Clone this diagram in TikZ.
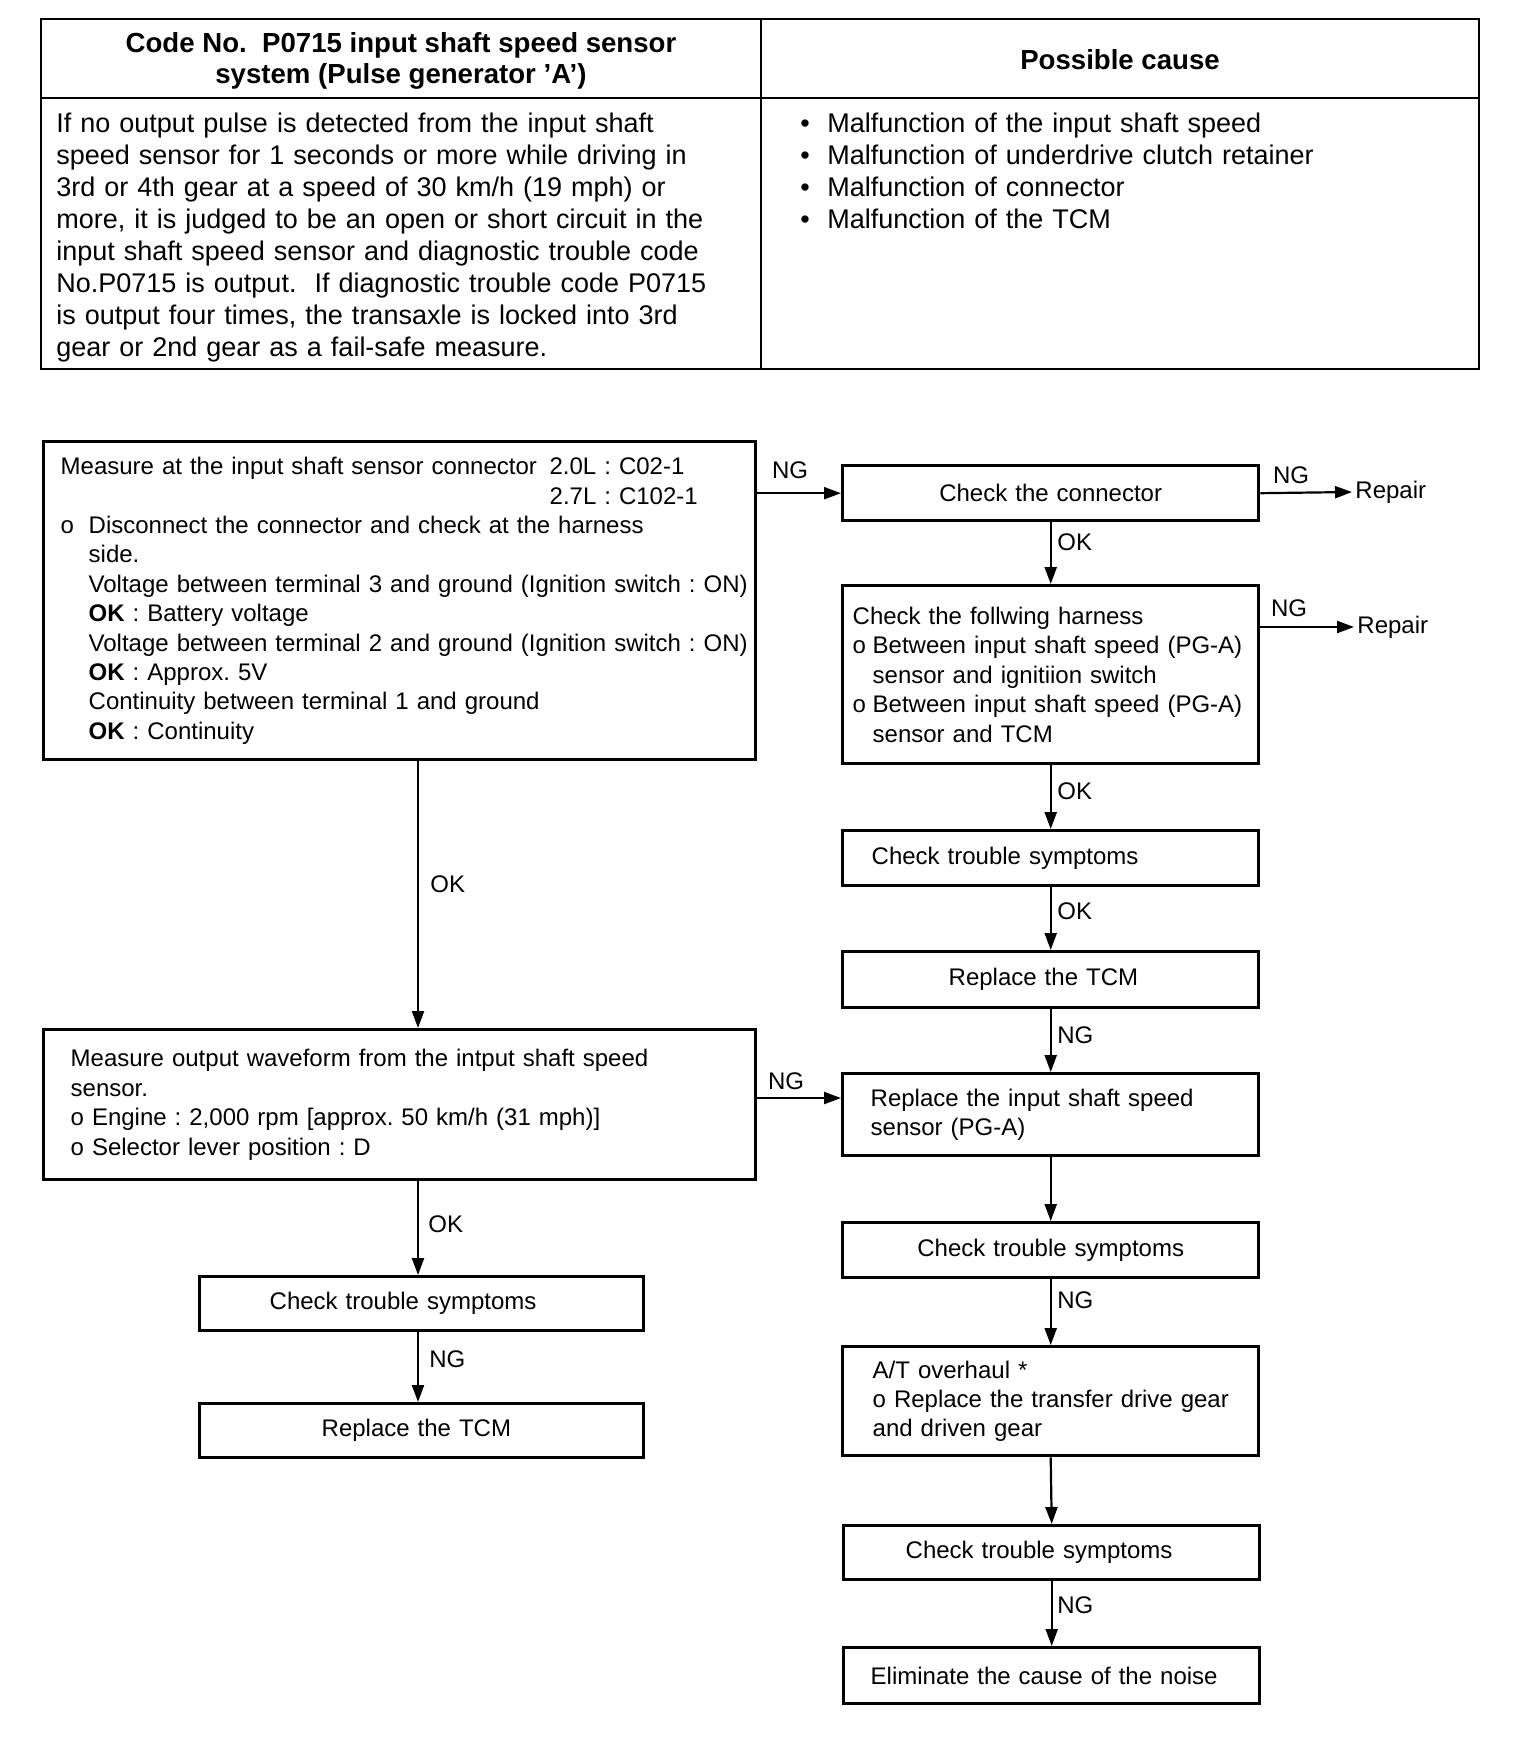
\documentclass[tikz,border=0pt]{standalone}
\usepackage{fontspec}
\setmainfont{Liberation Sans}
\usetikzlibrary{arrows.meta}
\frenchspacing
\newcommand\fsz{\fontsize{12pt}{14.7pt}\selectfont}
\newcommand\ftb{\fontsize{13.5pt}{16pt}\selectfont}
\newcommand\fth{\fontsize{13.8pt}{15.5pt}\selectfont\bfseries}
\begin{document}
\begin{tikzpicture}[x=0.5pt,y=-0.5pt,
  tline/.style={line width=1.1pt},
  fbox/.style={draw, line width=1.7pt, anchor=north west, align=left, inner ysep=0pt, font=\fsz},
  cbox/.style={draw, line width=1.7pt, anchor=north west, align=center, inner ysep=0pt, inner xsep=0pt, text width=208pt, font=\fsz},
  arr/.style={line width=1.1pt, -{Triangle[length=8.5pt,width=6pt]}},
  lbl/.style={font=\fsz, anchor=west, inner sep=0pt},
  hlbl/.style={font=\fsz, inner sep=0pt},
  rep/.style={font=\fsz, anchor=west, inner sep=1.5pt}
]
\useasboundingbox[fill=white] (0,0) rectangle (1520,1748);

% ---------- top table ----------
\draw[tline] (41,19) rectangle (1479,369);
\draw[tline] (41,98) -- (1479,98);
\draw[tline] (761,19) -- (761,369);
\node[font=\fth, align=center, inner sep=0pt] (h1) at (401,60.5) {Code No.\ \ P0715 input shaft speed sensor\\system (Pulse generator 'A')};
\node[font=\fth, inner sep=0pt] (h2) at (1120,60) {Possible cause};
\node[font=\ftb, align=left, anchor=base west, inner sep=0pt, text width=350pt] (desc) at (56,133) {If no output pulse is detected from the input shaft\\
speed sensor for 1 seconds or more while driving in\\
3rd or 4th gear at a speed of 30 km/h (19 mph) or\\
more, it is judged to be an open or short circuit in the\\
input shaft speed sensor and diagnostic trouble code\\
No.P0715 is output.\ \ If diagnostic trouble code P0715\\
is output four times, the transaxle is locked into 3rd\\
gear or 2nd gear as a fail-safe measure.};
\node[font=\ftb, align=left, anchor=base west, inner sep=0pt, text width=330pt] (causes) at (800,133) {\makebox[13.5pt][l]{\textbullet}Malfunction of the input shaft speed\\
\makebox[13.5pt][l]{\textbullet}Malfunction of underdrive clutch retainer\\
\makebox[13.5pt][l]{\textbullet}Malfunction of connector\\
\makebox[13.5pt][l]{\textbullet}Malfunction of the TCM};

% ---------- flowchart boxes ----------
\node[fbox, inner xsep=8.5pt, text width=339pt, minimum height=159pt] (A) at (42,440) {%
\makebox[244.5pt][l]{Measure at the input shaft sensor connector}2.0L : C02-1\\
\hspace*{244.5pt}2.7L : C102-1\\
\makebox[14pt][l]{o}Disconnect the connector and check at the harness\\
\hspace*{14pt}side.\\
\mbox{\hspace*{14pt}Voltage between terminal 3 and ground (Ignition switch : ON)}\\
\hspace*{14pt}\textbf{OK} : Battery voltage\\
\mbox{\hspace*{14pt}Voltage between terminal 2 and ground (Ignition switch : ON)}\\
\hspace*{14pt}\textbf{OK} : Approx. 5V\\
\hspace*{14pt}Continuity between terminal 1 and ground\\
\hspace*{14pt}\textbf{OK} : Continuity};

\node[cbox, minimum height=27.5pt] (B) at (841,464) {Check the connector};

\node[fbox, inner xsep=5pt, text width=198pt, minimum height=89pt] (C) at (841,584) {%
Check the follwing harness\\
\mbox{\makebox[10pt][l]{o}Between input shaft speed (PG-A)}\\
\hspace*{10pt}sensor and ignitiion switch\\
\mbox{\makebox[10pt][l]{o}Between input shaft speed (PG-A)}\\
\hspace*{10pt}sensor and TCM};

\node[fbox, inner xsep=14.5pt, text width=179pt, minimum height=27.5pt] (D) at (841,829) {Check trouble symptoms};
\node[fbox, inner xsep=53pt, text width=102pt, minimum height=28pt] (E) at (841,950) {Replace the TCM};
\node[fbox, inner xsep=14pt, text width=180pt, minimum height=41pt] (F) at (841,1072) {Replace the input shaft speed\\sensor (PG-A)};

\node[fbox, inner xsep=13.5pt, text width=329pt, minimum height=75pt] (G) at (42,1028) {%
Measure output waveform from the intput shaft speed\\
sensor.\\
o Engine : 2,000 rpm [approx. 50 km/h (31 mph)]\\
o Selector lever position : D};

\node[cbox, minimum height=27.5pt] (H) at (841,1221) {Check trouble symptoms};
\node[fbox, inner xsep=15pt, text width=178pt, minimum height=54.5pt] (I) at (841,1345) {A/T overhaul *\\\mbox{o Replace the transfer drive gear}\\and driven gear};
\node[fbox, inner xsep=31pt, text width=146pt, minimum height=27pt] (J) at (842,1524) {Check trouble symptoms};
\node[fbox, inner xsep=13.5pt, text width=181pt, minimum height=28pt] (K) at (842,1646) {Eliminate the cause of the noise};
\node[fbox, inner xsep=35pt, text width=152pt, minimum height=27pt] (L) at (198,1275) {Check trouble symptoms};
\node[fbox, inner xsep=61pt, text width=100pt, minimum height=27pt] (M) at (198,1402) {Replace the TCM};

\node[rep] (r1) at (1352,492) {Repair};
\node[rep] (r2) at (1354,627) {Repair};

% ---------- connectors ----------
\draw[arr] (A.east |- B.west) -- (B.west);
\node[hlbl] (ngab) at (790,470) {NG};
\draw[arr] (B.east) -- (r1.west);
\node[hlbl] (ngbr) at (1291,475) {NG};
\draw[arr] (B.south) -- (C.north);
\node[lbl] (okbc) at (1057,542) {OK};
\draw[arr] (C.east |- r2.west) -- (r2.west);
\node[hlbl] (ngcr) at (1289,608) {NG};
\draw[arr] (C.south) -- (D.north);
\node[lbl] (okcd) at (1057,791) {OK};
\draw[arr] (D.south) -- (E.north);
\node[lbl] (okde) at (1057,911) {OK};
\draw[arr] (E.south) -- (F.north);
\node[lbl] (ngef) at (1057,1035) {NG};
\draw[arr] (G.east |- 0,1098) -- (F.west |- 0,1098);
\node[hlbl] (nggf) at (786,1081) {NG};
\draw[arr] (F.south) -- (H.north);
\draw[arr] (H.south) -- (I.north);
\node[lbl] (nghi) at (1057,1300) {NG};
\draw[arr] (I.south) -- (J.north);
\draw[arr] (J.south) -- (K.north);
\node[lbl] (ngjk) at (1057,1605) {NG};
\draw[arr] (418,0 |- A.south) -- (418,0 |- G.north);
\node[lbl] (okag) at (430,884) {OK};
\draw[arr] (418,0 |- G.south) -- (418,0 |- L.north);
\node[lbl] (okgl) at (428,1224) {OK};
\draw[arr] (418,0 |- L.south) -- (418,0 |- M.north);
\node[lbl] (nglm) at (429,1359) {NG};
\end{tikzpicture}
\end{document}
